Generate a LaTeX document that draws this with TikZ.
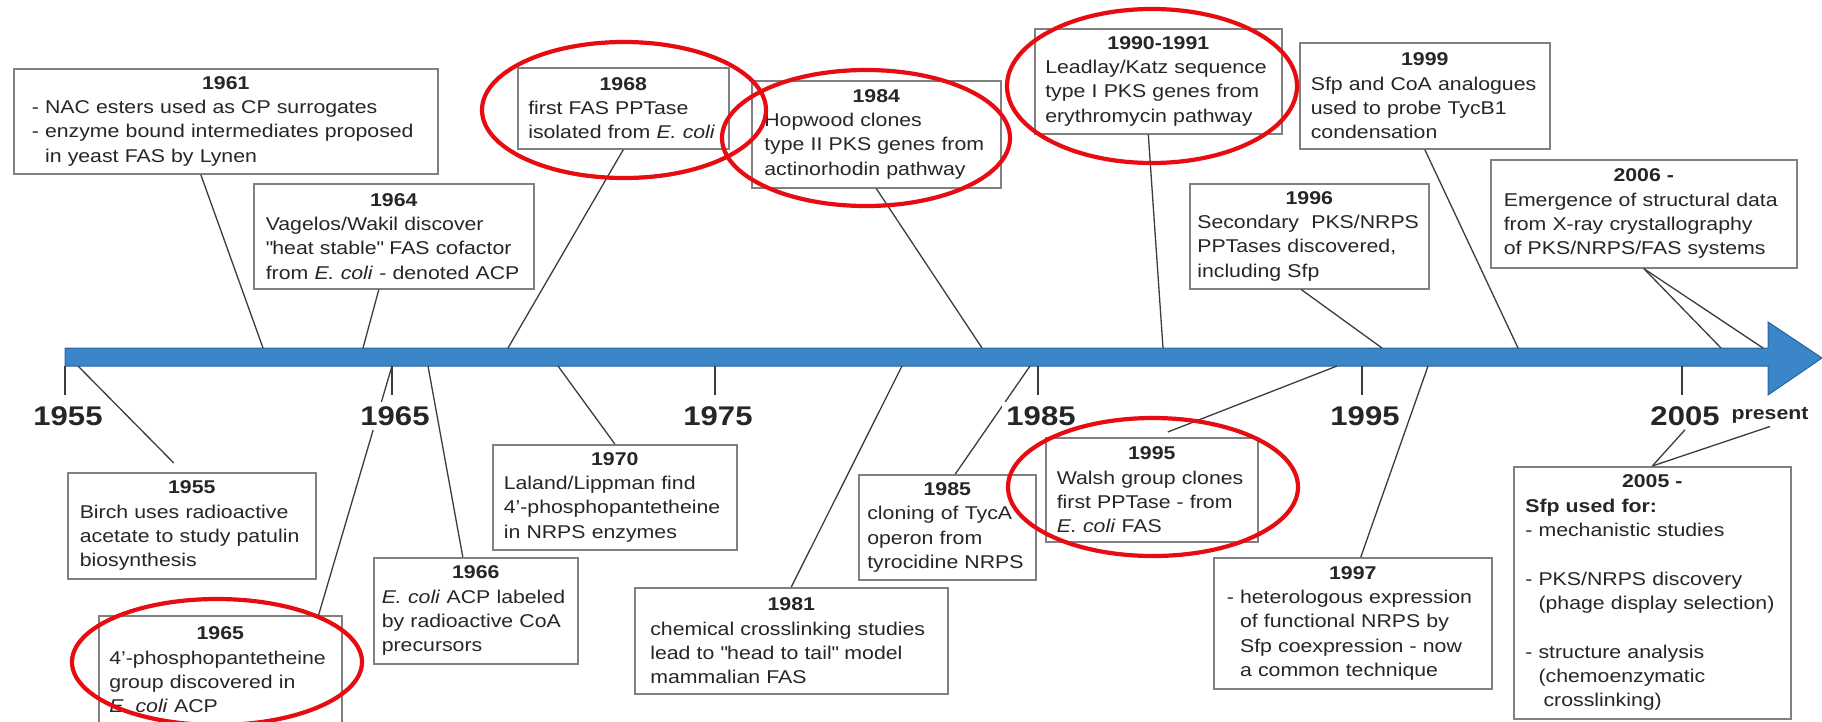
\documentclass[tikz,border=0pt]{standalone}
\usepackage{fontspec}
\setmainfont{Liberation Sans}[FakeStretch=1.15]
\usepackage{xcolor}
\usepackage{tikz}

\definecolor{barblue}{RGB}{59,134,200}
\definecolor{baredge}{RGB}{40,100,160}
\definecolor{boxgray}{RGB}{128,128,128}
\definecolor{linegray}{RGB}{60,60,60}
\definecolor{inkred}{RGB}{230,12,18}
\definecolor{ink}{RGB}{38,38,38}

\begin{document}
\begin{tikzpicture}[x=1pt, y=-1pt,
    evbox/.style={draw=boxgray, line width=1.6pt, fill=white, anchor=north west,
        inner xsep=4pt, inner ysep=2pt, align=left, text=ink,
        font=\fontsize{18.5}{24.3}\selectfont},
    link/.style={draw=linegray, line width=1.3pt},
    tickline/.style={draw=linegray, line width=1.6pt},
    ticklabel/.style={fill=white, inner sep=4pt, text=ink,
        font=\fontsize{27}{30}\selectfont\bfseries},
    hl/.style={draw=inkred, line width=4.2pt}]

    \useasboundingbox (0,0) rectangle (1822,721);
    \clip (0,0) rectangle (1822,721);
    \fill[white] (0,0) rectangle (1822,721);

    % the time bar with its arrow head
    \filldraw[fill=barblue, draw=baredge, line width=1pt]
        (65,348) -- (1768,348) -- (1768,322) -- (1822,358)
        -- (1768,395) -- (1768,366) -- (65,366) -- cycle;

    % points on the bar where the events meet it
    \foreach \n/\x in {1961/263, 1964/363, 1968/508, 1984/982, 1990/1163,
                       1996/1382, 1999/1518, 2006a/1721, 2006b/1763} {
        \coordinate (up\n) at (\x,348);
    }
    \foreach \n/\x in {1955/78, 1965/392, 1966/428, 1970/558, 1981/902,
                       1985/1030, 1995/1337, 1997/1428} {
        \coordinate (dn\n) at (\x,366);
    }

    % events above the bar
    \node[evbox, minimum width=424pt, minimum height=105pt, text width=388pt] (e1961) at (13,68)
        {{\centering\bfseries 1961\par}
         - NAC esters used as CP surrogates\\
         - enzyme bound intermediates proposed\\
         \phantom{- }in yeast FAS by Lynen};
    \node[evbox, minimum width=280pt, minimum height=105pt, text width=256pt] (e1964) at (253,183)
        {{\centering\bfseries 1964\par}
         Vagelos/Wakil discover\\
         \textquotedbl heat stable\textquotedbl{} FAS cofactor\\
         from \textit{E. coli} - denoted ACP};
    \node[evbox, minimum width=211pt, minimum height=81pt, text width=190pt] (e1968) at (517,67)
        {{\centering\bfseries 1968\par}
         first FAS PPTase\\
         isolated from \textit{E. coli}};
    \node[evbox, minimum width=249pt, minimum height=107pt, text width=224pt] (e1984) at (751,80)
        {{\centering\bfseries 1984\par}
         Hopwood clones\\
         type II PKS genes from\\
         actinorhodin pathway};
    \node[evbox, minimum width=247pt, minimum height=105pt, text width=226pt] (e1990) at (1034,28)
        {{\centering\bfseries 1990-1991\par}
         Leadlay/Katz sequence\\
         type I PKS genes from\\
         erythromycin pathway};
    \node[evbox, minimum width=250pt, minimum height=106pt, text width=228pt] (e1999) at (1299,42)
        {{\centering\bfseries 1999\par}
         Sfp and CoA analogues\\
         used to probe TycB1\\
         condensation};
    \node[evbox, minimum width=239pt, minimum height=105pt, text width=224pt] (e1996) at (1189,183)
        {{\centering\bfseries 1996\par}
         Secondary\ \ PKS/NRPS\\
         PPTases discovered,\\
         including Sfp};
    \node[evbox, minimum width=306pt, minimum height=108pt, text width=280pt] (e2006) at (1490,159)
        {{\centering\bfseries 2006 -\par}
         Emergence of structural data\\
         from X-ray crystallography\\
         of PKS/NRPS/FAS systems};

    % events below the bar
    \node[evbox, minimum width=248pt, minimum height=106pt, text width=224pt] (e1955) at (67,472)
        {{\centering\bfseries 1955\par}
         Birch uses radioactive\\
         acetate to study patulin\\
         biosynthesis};
    \node[evbox, minimum width=243pt, minimum height=108pt, text width=222pt] (e1965) at (98,615)
        {{\centering\bfseries 1965\par}
         4'-phosphopantetheine\\
         group discovered in\\
         \textit{E. coli} ACP};
    \node[evbox, minimum width=204pt, minimum height=106pt, text width=188pt] (e1966) at (373,557)
        {{\centering\bfseries 1966\par}
         \textit{E. coli} ACP labeled\\
         by radioactive CoA\\
         precursors};
    \node[evbox, minimum width=244pt, minimum height=105pt, text width=222pt] (e1970) at (492,444)
        {{\centering\bfseries 1970\par}
         Laland/Lippman find\\
         4'-phosphopantetheine\\
         in NRPS enzymes};
    \node[evbox, minimum width=313pt, minimum height=106pt, text width=282pt] (e1981) at (634,587)
        {{\centering\bfseries 1981\par}
         chemical crosslinking studies\\
         lead to \textquotedbl head to tail\textquotedbl{} model\\
         mammalian FAS};
    \node[evbox, minimum width=177pt, minimum height=105pt, text width=160pt] (e1985) at (858,474)
        {{\centering\bfseries 1985\par}
         cloning of TycA\\
         operon from\\
         tyrocidine NRPS};
    \node[evbox, minimum width=212pt, minimum height=104pt, text width=190pt] (e1995) at (1045,437)
        {{\centering\bfseries 1995\par}
         Walsh group clones\\
         first PPTase - from\\
         \textit{E. coli} FAS};
    \node[evbox, minimum width=278pt, minimum height=131pt, text width=252pt] (e1997) at (1213,557)
        {{\centering\bfseries 1997\par}
         - heterologous expression\\
         \phantom{- }of functional NRPS by\\
         \phantom{- }Sfp coexpression - now\\
         \phantom{- }a common technique};
    \node[evbox, minimum width=277pt, minimum height=252pt, text width=254pt] (e2005) at (1513,466)
        {{\centering\bfseries 2005 -\par}
         \textbf{Sfp used for:}\\
         - mechanistic studies\\[24.3pt]
         - PKS/NRPS discovery\\
         \phantom{- }(phage display selection)\\[24.3pt]
         - structure analysis\\
         \phantom{- }(chemoenzymatic\\
         \phantom{- }\hspace{5pt}crosslinking)};

    % connectors from the boxes to the bar
    \draw[link] ([xshift=-25pt]e1961.south) -- (up1961);
    \draw[link] ([xshift=-15pt]e1964.south) -- (up1964);
    \draw[link] (e1968.south) -- (up1968);
    \draw[link] (e1984.south) -- (up1984);
    \draw[link] ([xshift=-10pt]e1990.south) -- (up1990);
    \draw[link] ([xshift=-8pt]e1996.south) -- (up1996);
    \draw[link] (e1999.south) -- (up1999);
    \draw[link] (e2006.south) -- (up2006a);
    \draw[link] (e2006.south) -- (up2006b);
    \draw[link] (dn1955) -- ([xshift=-18pt,yshift=9pt]e1955.north);
    \draw[link] (dn1965) -- ([xshift=-24pt]e1965.north east);
    \draw[link] (dn1966) -- ([xshift=-13pt]e1966.north);
    \draw[link] (dn1970) -- (e1970.north);
    \draw[link] (dn1981) -- (e1981.north);
    \draw[link] (dn1985) -- ([xshift=8pt]e1985.north);
    \draw[link] (dn1995) -- ([xshift=16pt,yshift=5pt]e1995.north);
    \draw[link] (dn1997) -- ([xshift=8pt]e1997.north);

    % decade ticks and years
    \foreach \yy/\x in {1955/65, 1965/392, 1975/715, 1985/1038, 1995/1362, 2005/1682} {
        \draw[tickline] (\x,366) -- (\x,395);
        \node[ticklabel] (y\yy) at (\x+3,416) {\yy};
    }
    \node[text=ink, font=\fontsize{18.5}{20}\selectfont\bfseries] (present) at (1770,415) {present};
    \draw[link] (y2005.south) -- (e2005.north);
    \draw[link] (present.south) -- (e2005.north);

    % red rings round the key events
    \draw[hl] (624,110) ellipse [x radius=142, y radius=68];
    \draw[hl] (866,138) ellipse [x radius=144, y radius=68];
    \draw[hl] (1152,86) ellipse [x radius=145, y radius=77];
    \draw[hl] (1153,487) ellipse [x radius=145, y radius=69];
    \draw[hl] (217,662) ellipse [x radius=145, y radius=63];

\end{tikzpicture}
\end{document}
